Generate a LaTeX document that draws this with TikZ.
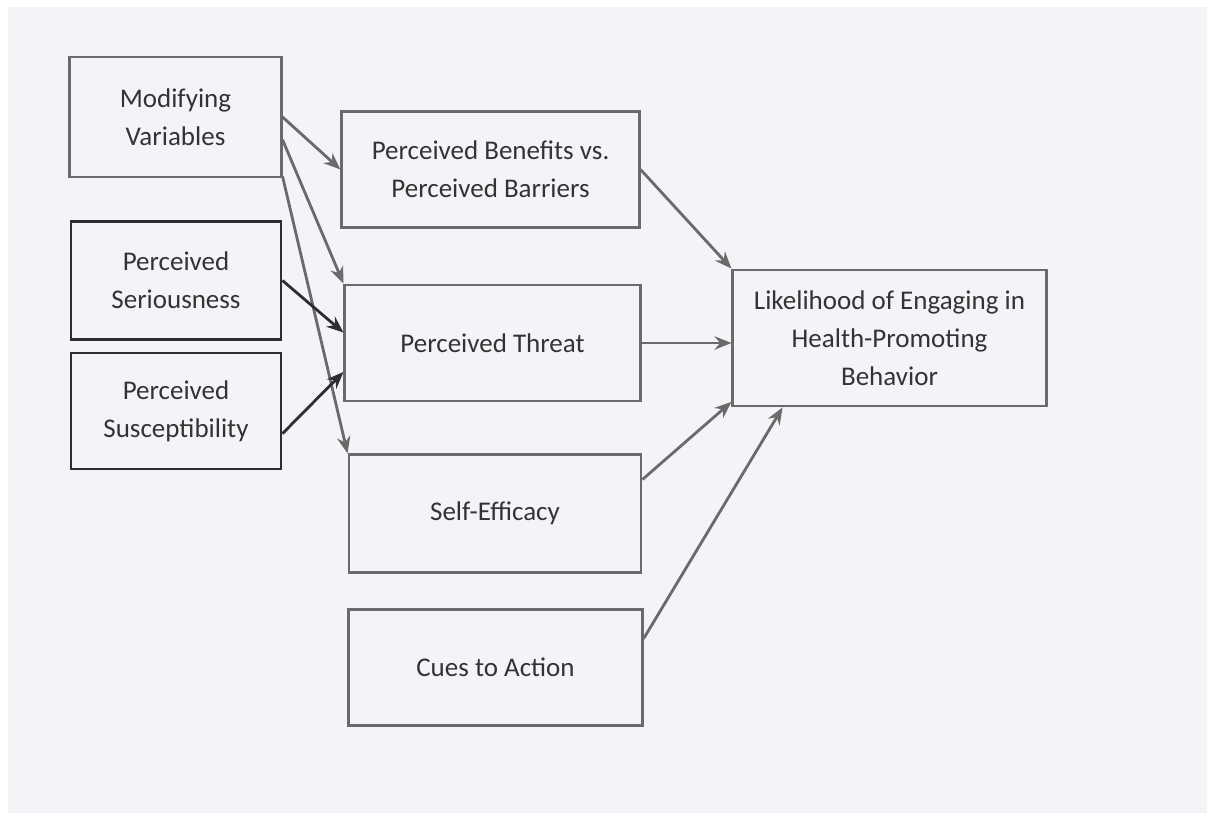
\documentclass[tikz,border=0pt]{standalone}
\usepackage{fontspec}
\setmainfont{Carlito}
\usetikzlibrary{arrows.meta}
\definecolor{paper}{HTML}{F2F4F7}
\definecolor{ink}{HTML}{333333}
\definecolor{rule}{HTML}{6A6A6A}
\definecolor{darkrule}{HTML}{2E2E2E}
\begin{document}
\begin{tikzpicture}[x=0.025cm,y=-0.025cm,
    box/.style={draw=rule,line width=2pt,fill=paper,text=ink,align=center,
      font=\fontsize{19.2}{27}\selectfont,inner sep=0pt},
    darkbox/.style={box,draw=darkrule},
    link/.style={draw=rule,line width=2pt,-{Stealth[length=12pt,width=9.5pt]}},
    darklink/.style={link,draw=darkrule}]
    \useasboundingbox (0,0) rectangle (1207,812);
    \fill[white] (-10,-10) rectangle (1220,825);
    \fill[paper] (8,7) rectangle (1220,825);

    \node (mv) at (175.5,117) [box,minimum width=5.28cm,minimum height=3cm] {Modifying\\Variables};
    \node (ser) at (176,280.5) [darkbox,minimum width=5.25cm,minimum height=2.93cm] {Perceived\\Seriousness};
    \node (sus) at (176,411) [darkbox,minimum width=5.25cm,minimum height=2.9cm] {Perceived\\Susceptibility};
    \node (ben) at (490.5,169.5) [box,minimum width=7.43cm,minimum height=2.88cm] {Perceived Benefits vs.\\Perceived Barriers};
    \node (thr) at (492.5,343) [box,minimum width=7.38cm,minimum height=2.9cm] {Perceived Threat};
    \node (se) at (495,513.5) [box,minimum width=7.3cm,minimum height=2.93cm] {Self-Efficacy};
    \node (cues) at (495.5,667.5) [box,minimum width=7.33cm,minimum height=2.88cm] {Cues to Action};
    \node (lik) at (889.5,338) [box,minimum width=7.83cm,minimum height=3.4cm] {Likelihood of Engaging in\\Health-Promoting\\Behavior};

    \draw[link] (mv.east) -- (ben.west);
    \draw[link] (mv.-12) -- (thr.north west);
    \draw[link] (mv.-29) -- (se.north west);
    \draw[darklink] (ser.east) -- (thr.176);
    \draw[darklink] (sus.-12) -- (thr.191);

    \draw[link] (ben.east) -- (lik.north west);
    \draw[link] (thr.east) -- (thr.east -| lik.west);
    \draw[link] (se.13) -- (lik.202);
    \draw[link] (cues.11) -- (lik.213);
\end{tikzpicture}
\end{document}
